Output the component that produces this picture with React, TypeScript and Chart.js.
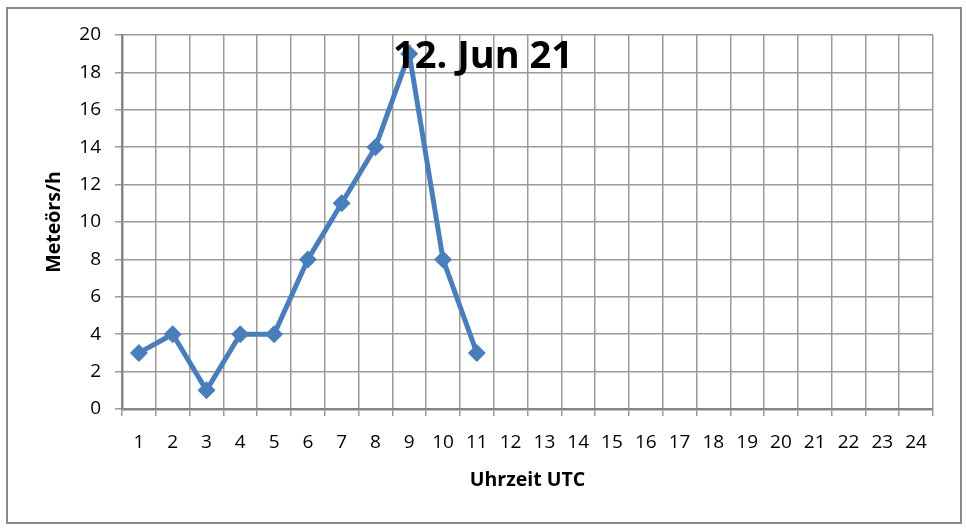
import React, { useEffect, useRef } from "react";
import { Chart, registerables } from "chart.js";

Chart.register(...registerables);

const hours: string[] = ["1","2","3","4","5","6","7","8","9","10","11","12","13","14","15","16","17","18","19","20","21","22","23","24"];
const meteors: (number | null)[] = [3, 4, 1, 4, 4, 8, 11, 14, 19, 8, 3, null, null, null, null, null, null, null, null, null, null, null, null, null];
const chartTitle = "12. Jun 21";
const yTitle = "Meteörs/h";
const xTitle = "Uhrzeit UTC";

const FONT = "'Open Sans', 'Liberation Sans', sans-serif";

const framePlugin = {
  id: "frame",
  beforeDraw(chart: any) {
    const ctx = chart.ctx;
    ctx.save();
    ctx.fillStyle = "#ffffff";
    ctx.fillRect(0, 0, chart.width, chart.height);
    ctx.strokeStyle = "#8a8a8a";
    ctx.lineWidth = 2;
    ctx.strokeRect(7, 8, 954, 515);
    ctx.restore();
  },
  afterDatasetsDraw(chart: any) {
    const ctx = chart.ctx;
    const area = chart.chartArea;
    ctx.save();
    ctx.font = `bold 38px ${FONT}`;
    ctx.fillStyle = "#000000";
    ctx.textAlign = "center";
    ctx.textBaseline = "middle";
    ctx.fillText(chartTitle, chart.width / 2, area.top + 22);
    ctx.restore();
  },
};

export default function App() {
  const ref = useRef<HTMLCanvasElement | null>(null);
  useEffect(() => {
    if (!ref.current) return;
    const chart = new Chart(ref.current, {
      type: "line",
      data: {
        labels: hours,
        datasets: [
          {
            data: meteors,
            borderColor: "#4A7EBB",
            backgroundColor: "#4A7EBB",
            borderWidth: 5,
            pointStyle: "rectRot",
            pointRadius: 9,
            pointBorderWidth: 0,
            tension: 0,
            spanGaps: false,
          },
        ],
      },
      options: {
        animation: false,
        responsive: false,
        devicePixelRatio: 1,
        layout: { padding: { left: 0, top: 35, right: 33, bottom: 0 } },
        plugins: {
          legend: { display: false },
          tooltip: { enabled: false },
          title: { display: false },
        },
        scales: {
          x: {
            type: "category",
            offset: true,
            grid: {
              offset: true,
              color: "#9a9a9a",
              lineWidth: 1.5,
              tickLength: 7,
            },
            border: { color: "#868686", width: 2.5 },
            ticks: {
              color: "#000000",
              font: { family: FONT, size: 19 },
              padding: 15,
              maxRotation: 0,
              autoSkip: false,
            },
            title: {
              display: true,
              text: xTitle,
              color: "#000000",
              font: { family: FONT, size: 19.5, weight: "bold" },
              padding: { top: 0, bottom: 38 },
            },
            afterFit(scale: any) {
              scale.height = 121;
            },
          },
          y: {
            min: 0,
            max: 20,
            ticks: {
              stepSize: 2,
              color: "#000000",
              font: { family: FONT, size: 19 },
              padding: 14,
            },
            grid: {
              color: "#9a9a9a",
              lineWidth: 1.5,
              tickLength: 7,
            },
            border: { color: "#868686", width: 2.5 },
            title: {
              display: true,
              text: yTitle,
              color: "#000000",
              font: { family: FONT, size: 19.5, weight: "bold" },
              padding: { top: 43, bottom: 0 },
            },
            afterFit(scale: any) {
              scale.width = 122;
            },
          },
        },
      },
      plugins: [framePlugin],
    });
    return () => chart.destroy();
  }, []);
  return (
    <div style={{ position: "fixed", left: 0, top: 0, width: 966, height: 530 }}>
      <canvas ref={ref} width={966} height={530} style={{ width: 966, height: 530, display: "block" }} />
    </div>
  );
}
